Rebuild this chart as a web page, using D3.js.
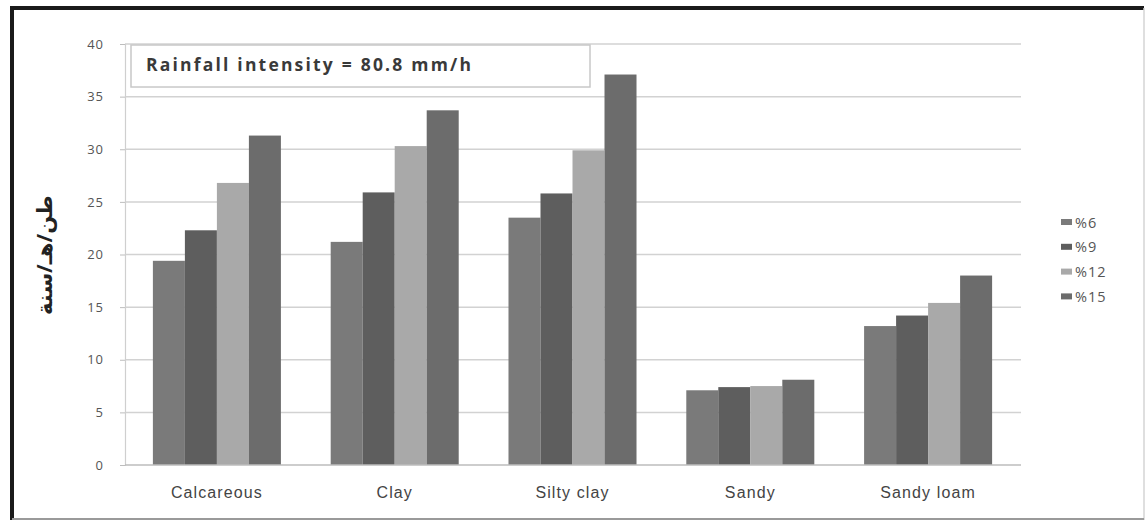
<!DOCTYPE html>
<html>
<head>
<meta charset="utf-8">
<script src="https://cdn.jsdelivr.net/npm/d3@7"></script>
<style>
  html, body { margin: 0; padding: 0; background: #fff; }
  svg { display: block; }
</style>
</head>
<body>
<svg id="chart" width="1148" height="526"></svg>
<script>
// Soil types along the x axis
const categories = ["Calcareous", "Clay", "Silty clay", "Sandy", "Sandy loam"];
// Slope classes (legend)
const series = ["%6", "%9", "%12", "%15"];
// Soil loss per slope class, one value per soil type
const slope6  = [19.4, 21.2, 23.5, 7.1, 13.2];
const slope9  = [22.3, 25.9, 25.8, 7.4, 14.2];
const slope12 = [26.8, 30.3, 29.9, 7.5, 15.4];
const slope15 = [31.3, 33.7, 37.1, 8.1, 18.0];
const yTicks  = [0, 5, 10, 15, 20, 25, 30, 35, 40];

const values = [slope6, slope9, slope12, slope15];
const colors = ["#7a7a7a", "#5e5e5e", "#a9a9a9", "#6c6c6c"];

const svg = d3.select("#chart");
const W = 1148, H = 526;
const plot = { left: 128, right: 1017, top: 44, bottom: 465 };
const labelFont = "'Liberation Sans Narrow', 'Liberation Sans', sans-serif";

// Frame around the figure
svg.append("rect").attr("x", 0).attr("y", 0).attr("width", W).attr("height", H).attr("fill", "#fff");
svg.append("line").attr("x1", 12).attr("x2", 1144).attr("y1", 8).attr("y2", 8)
  .attr("stroke", "#1a1a1a").attr("stroke-width", 4);
svg.append("line").attr("x1", 12).attr("x2", 12).attr("y1", 6).attr("y2", 520)
  .attr("stroke", "#1a1a1a").attr("stroke-width", 4);
svg.append("line").attr("x1", 1144).attr("x2", 1144).attr("y1", 8).attr("y2", 520)
  .attr("stroke", "#d4d4d4").attr("stroke-width", 1.5);
svg.append("line").attr("x1", 12).attr("x2", 1144).attr("y1", 519).attr("y2", 519)
  .attr("stroke", "#9a9a9a").attr("stroke-width", 2);

const x0 = d3.scaleBand().domain(categories).range([plot.left, plot.right]).paddingInner(0.28).paddingOuter(0.14);
const x1 = d3.scaleBand().domain(series).range([0, x0.bandwidth()]).padding(0);
const y = d3.scaleLinear().domain([0, 40]).range([plot.bottom, plot.top]);

// Horizontal gridlines
svg.append("g").selectAll("line").data(yTicks.filter(d => d > 0)).join("line")
  .attr("x1", plot.left - 3).attr("x2", plot.right + 4)
  .attr("y1", d => y(d)).attr("y2", d => y(d))
  .attr("stroke", "#d2d2d2").attr("stroke-width", 1.5);

// Y axis
const yAxis = svg.append("g").attr("transform", `translate(${plot.left - 3},0)`)
  .call(d3.axisLeft(y).tickValues(yTicks).tickSize(5).tickPadding(16));
yAxis.select(".domain").attr("stroke", "#cfcfcf").attr("stroke-width", 1.2);
yAxis.selectAll(".tick line").attr("stroke", "#bdbdbd");
yAxis.selectAll(".tick text").attr("fill", "#555").attr("font-size", 13)
  .attr("letter-spacing", 1)
  .attr("font-family", "'Open Sans', sans-serif");

// Bars
const groups = svg.append("g").selectAll("g").data(categories).join("g")
  .attr("transform", c => `translate(${x0(c)},0)`);
groups.selectAll("rect").data((c, i) => series.map((s, k) => ({ s, k, v: values[k][i] }))).join("rect")
  .attr("x", d => x1(d.s)).attr("width", x1.bandwidth())
  .attr("y", d => y(d.v)).attr("height", d => y(0) - y(d.v))
  .attr("fill", d => colors[d.k]);

// Baseline
svg.append("line").attr("x1", plot.left - 3).attr("x2", plot.right + 4)
  .attr("y1", y(0)).attr("y2", y(0)).attr("stroke", "#bdbdbd").attr("stroke-width", 1.5);

// X axis labels
svg.append("g").selectAll("text").data(categories).join("text")
  .attr("x", c => x0(c) + x0.bandwidth() / 2).attr("y", 498)
  .attr("text-anchor", "middle").attr("fill", "#444").attr("font-size", 16)
  .attr("letter-spacing", 1.1)
  .attr("font-family", labelFont).text(c => c);

// Annotation box
svg.append("rect").attr("x", 131).attr("y", 45).attr("width", 459).attr("height", 42)
  .attr("fill", "#fff").attr("stroke", "#c8c8c8").attr("stroke-width", 1.5);
svg.append("text").attr("x", 146).attr("y", 71).attr("fill", "#3a3a3a")
  .attr("font-size", 17.5).attr("font-weight", "bold").attr("letter-spacing", 2.2)
  .attr("font-family", "'Open Sans', sans-serif")
  .text("Rainfall intensity = 80.8 mm/h");

// Y axis title
svg.append("text").attr("transform", "translate(52,255) rotate(-90)")
  .attr("text-anchor", "middle").attr("fill", "#222").attr("font-size", 21).attr("font-weight", "bold")
  .attr("font-family", "'Noto Sans', 'DejaVu Sans', sans-serif")
  .text("طن/هـ/سنة");

// Legend
const legend = svg.append("g").attr("transform", "translate(1061,222)");
const items = legend.selectAll("g").data(series).join("g")
  .attr("transform", (d, i) => `translate(0,${i * 24.8})`);
items.append("rect").attr("x", 0).attr("y", -3).attr("width", 11).attr("height", 6)
  .attr("fill", (d, i) => colors[i]);
items.append("text").attr("x", 14).attr("y", 5.5).attr("fill", "#555").attr("font-size", 14.5)
  .attr("letter-spacing", 1)
  .attr("font-family", "'Open Sans', sans-serif").text(d => d);
</script>
</body>
</html>
